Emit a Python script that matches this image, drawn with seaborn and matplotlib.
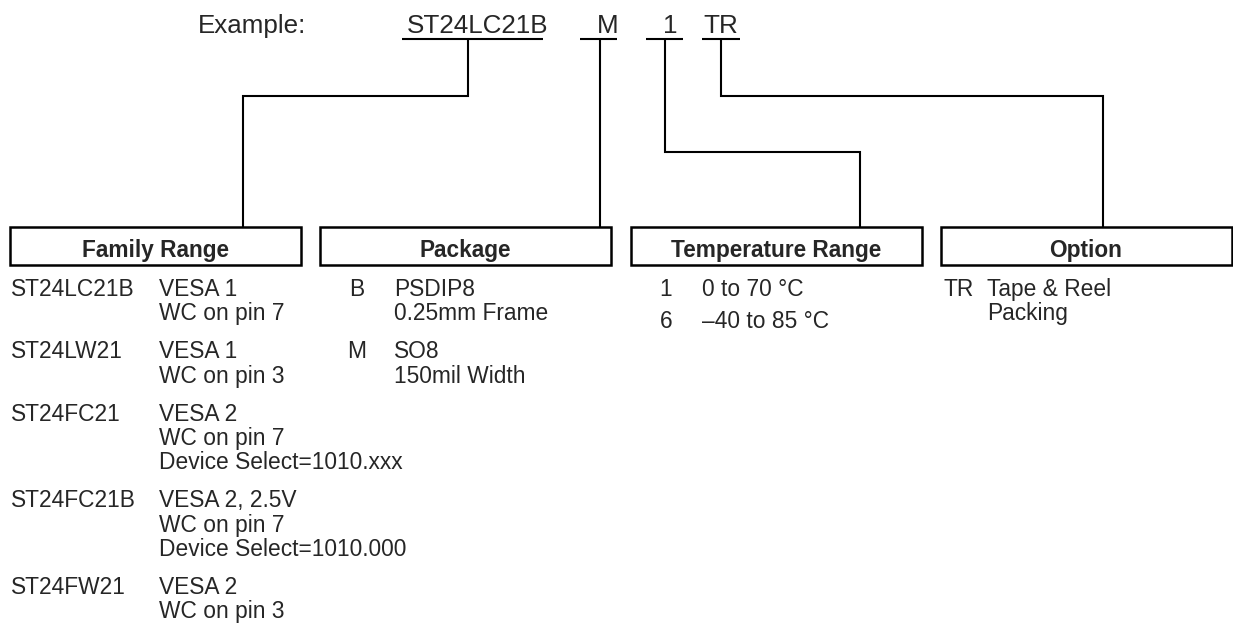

# ORDERING INFORMATION SCHEME


import matplotlib
matplotlib.use("Agg")
import matplotlib.pyplot as plt
from matplotlib.patches import Rectangle
import seaborn as sns


# DATA


example_label = "Example:"
example_codes = ["ST24LC21B", "M", "1", "TR"]

headers = ["Family Range", "Package", "Temperature Range", "Option"]

family_codes = ["ST24LC21B", "ST24LW21", "ST24FC21", "ST24FC21B", "ST24FW21"]
family_desc = [
    ["VESA 1", "WC on pin 7"],
    ["VESA 1", "WC on pin 3"],
    ["VESA 2", "WC on pin 7", "Device Select=1010.xxx"],
    ["VESA 2, 2.5V", "WC on pin 7", "Device Select=1010.000"],
    ["VESA 2", "WC on pin 3"],
]

package_codes = ["B", "M"]
package_desc = [
    ["PSDIP8", "0.25mm Frame"],
    ["SO8", "150mil Width"],
]

temp_codes = ["1", "6"]
temp_desc = ["0 to 70 \u00b0C", "\u201340 to 85 \u00b0C"]

option_codes = ["TR"]
option_desc = [["Tape & Reel", "Packing"]]


# STYLE


sns.set_theme(style="white")
plt.rcParams["font.family"] = ["Liberation Sans", "DejaVu Sans"]

fig = plt.figure(figsize=(12.33, 6.25), dpi=100)
ax = fig.add_axes([0, 0, 1, 1])
ax.set_xlim(0, 1233)
ax.set_ylim(625, 0)
ax.axis("off")

LW = 1.5
TOP_FS = 18.7
BODY_FS = 16.4
HEAD_FS = 16.3


# EXAMPLE LINE


ax.text(198, 33, example_label, fontsize=TOP_FS, ha="left", va="baseline")

code_x = [406.7, 597, 663, 703]
underlines = [(401.7, 542.7), (580, 617), (646, 683), (701.7, 740)]

for code, x, (u0, u1) in zip(example_codes, code_x, underlines):
    ax.text(x, 33, code, fontsize=TOP_FS, ha="left", va="baseline")
    ax.plot([u0, u1], [39, 39], color="black", lw=LW, solid_capstyle="butt")


# CONNECTORS


box_top = 227
box_bottom = 265

connectors = [
    ([468, 468, 243, 243], [39, 96, 96, box_top]),
    ([600, 600], [39, box_top]),
    ([665, 665, 860, 860], [39, 152, 152, box_top]),
    ([721, 721, 1103, 1103], [39, 96, 96, box_top]),
]

for xs, ys in connectors:
    ax.plot(xs, ys, color="black", lw=LW,
            solid_joinstyle="miter", solid_capstyle="butt")


# HEADER BOXES


box_left = [9.5, 320, 630.5, 940.5]
box_w = 291

for head, x0 in zip(headers, box_left):
    ax.add_patch(Rectangle((x0, box_top), box_w, box_bottom - box_top,
                           fill=False, edgecolor="black", lw=1.8,
                           joinstyle="miter"))
    ax.text(x0 + box_w / 2, 256.5, head, fontsize=HEAD_FS,
            fontweight="bold", ha="center", va="baseline")


# COLUMN TEXT


step = 24.2
gap = 14
first = 296


def draw_group(codes, descs, code_x, desc_x, code_ha="left"):
    y = first
    for code, lines in zip(codes, descs):
        ax.text(code_x, y, code, fontsize=BODY_FS, ha=code_ha, va="baseline")
        for i, line in enumerate(lines):
            ax.text(desc_x, y + i * step, line, fontsize=BODY_FS,
                    ha="left", va="baseline")
        y += len(lines) * step + gap


draw_group(family_codes, family_desc, 10.7, 159.3)
draw_group(package_codes, package_desc, 356.5, 394, code_ha="center")
draw_group(option_codes, option_desc, 943.3, 986.7)

temp_y = [296, 328]
for code, desc, y in zip(temp_codes, temp_desc, temp_y):
    ax.text(666, y, code, fontsize=BODY_FS, ha="center", va="baseline")
    ax.text(701.7, y, desc, fontsize=BODY_FS, ha="left", va="baseline")


# SAVE


fig.savefig("out.png", dpi=100, facecolor="white")
